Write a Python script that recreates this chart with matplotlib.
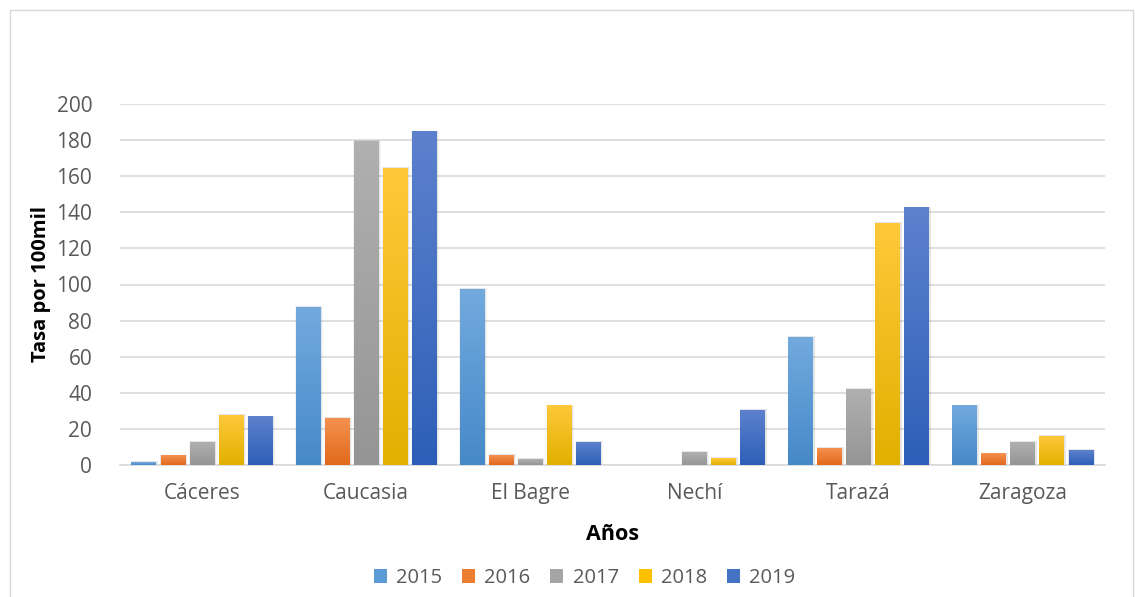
import matplotlib.pyplot as plt
import numpy as np
from matplotlib.colors import LinearSegmentedColormap
from matplotlib.patches import Rectangle, Patch

municipios = ['Cáceres', 'Caucasia', 'El Bagre', 'Nechí', 'Tarazá', 'Zaragoza']
years = ['2015', '2016', '2017', '2018', '2019']

tasa_2015 = [1.5, 87.5, 97.0, 0.0, 70.4, 32.7]
tasa_2016 = [5.0, 26.0, 5.5, 0.0, 8.9, 6.1]
tasa_2017 = [12.4, 179.0, 3.3, 7.2, 41.7, 12.4]
tasa_2018 = [27.7, 164.4, 32.7, 3.5, 134.0, 16.0]
tasa_2019 = [26.6, 184.5, 12.7, 30.0, 142.4, 7.8]

series = [tasa_2015, tasa_2016, tasa_2017, tasa_2018, tasa_2019]
# (top, bottom) colours for the vertical gradient of each series
grad = [('#72aade', '#4689c9'),
        ('#f4914f', '#e2691c'),
        ('#b0b0b0', '#959595'),
        ('#ffc83a', '#e2b000'),
        ('#5d81cd', '#2d5fb8')]
flat = ['#5b9bd5', '#ed7d31', '#a5a5a5', '#ffc000', '#4472c4']

text_col = '#595959'
font = ['Open Sans', 'DejaVu Sans']

fig = plt.figure(figsize=(11.35, 5.97), dpi=100)
ax = fig.add_axes([120 / 1135, 1 - 465 / 597, 985 / 1135, 361 / 597])

x = np.arange(len(municipios))
pitch = 0.177
width = 0.152
offsets = (np.arange(len(years)) - 2) * pitch

ramp = np.linspace(0, 1, 256).reshape(-1, 1)
for s, vals in enumerate(series):
    cmap = LinearSegmentedColormap.from_list('g', [grad[s][1], grad[s][0]])
    for i, v in enumerate(vals):
        if v <= 0:
            continue
        x0 = x[i] + offsets[s] - width / 2
        # soft drop shadow
        for k, a in ((0.016, 0.04), (0.009, 0.06)):
            ax.add_patch(Rectangle((x0 - k / 2 + 0.004, 0), width + k, v + 0.8,
                                   color='#000000', alpha=a, lw=0, zorder=2))
        ax.imshow(ramp, cmap=cmap, extent=[x0, x0 + width, 0, v], origin='lower',
                  aspect='auto', zorder=3, interpolation='bilinear')

ax.set_xlim(-0.5, len(municipios) - 0.5)
ax.set_ylim(0, 200)
ax.set_yticks(np.arange(0, 201, 20))
ax.set_xticks(x)
ax.set_xticklabels(municipios)
ax.grid(axis='y', color='#d9d9d9', lw=1.2, zorder=0)
ax.set_axisbelow(True)
for side in ['top', 'right', 'left']:
    ax.spines[side].set_visible(False)
ax.spines['bottom'].set_color('#d9d9d9')
ax.spines['bottom'].set_linewidth(1.2)
ax.tick_params(length=0, labelsize=15, labelcolor=text_col)
ax.tick_params(axis='y', pad=20)
ax.tick_params(axis='x', pad=13)
for lbl in ax.get_xticklabels() + ax.get_yticklabels():
    lbl.set_family(font)

ax.set_ylabel('Tasa por 100mil', fontsize=14.5, fontweight='bold', family=font,
              color='black', labelpad=4)
ax.set_xlabel('Años', fontsize=15.5, fontweight='bold', family=font,
              color='black', labelpad=14)

handles = [Patch(facecolor=c, edgecolor='none') for c in flat]
fig.legend(handles, years, loc='center', bbox_to_anchor=(0.515, 1 - 578 / 597),
           ncol=5, frameon=False, prop={'family': font, 'size': 14.5},
           labelcolor=text_col, handlelength=0.65, handleheight=0.65,
           handletextpad=0.45, columnspacing=1.0)

# chart frame
fig.add_artist(Rectangle((10 / 1135, -0.01), 1123 / 1135, 1 - 10 / 597 + 0.01,
                         transform=fig.transFigure, fill=False,
                         edgecolor='#d9d9d9', lw=1))

fig.savefig('out.png', dpi=100)
